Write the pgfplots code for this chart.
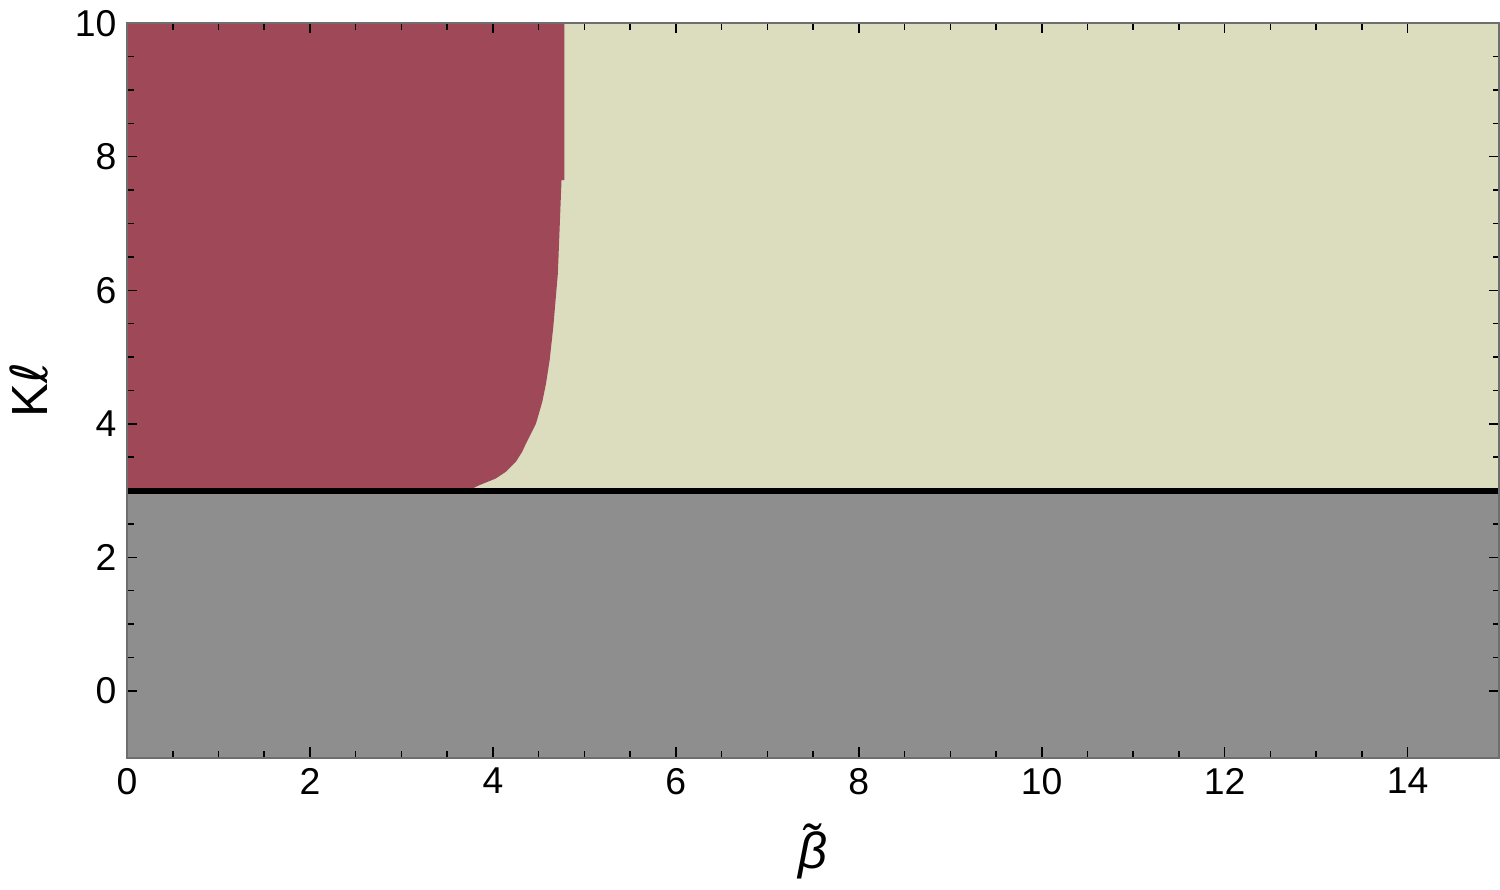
\documentclass[border=0pt]{standalone}
\usepackage{fontspec}
\setmainfont{Liberation Sans}
\newfontfamily\dejavu{DejaVu Sans}
\usepackage{pgfplots}
\pgfplotsset{compat=1.18}

\definecolor{redregion}{RGB}{158,72,88}
\definecolor{paleregion}{RGB}{220,220,190}
\definecolor{grayregion}{RGB}{142,142,142}
\definecolor{framegray}{RGB}{110,110,110}

\begin{document}
\begin{tikzpicture}
\begin{axis}[
    scale only axis,
    width=459pt, height=245.7pt,
    xmin=0, xmax=15, ymin=-1, ymax=10,
    xtick={0,2,...,14}, ytick={0,2,...,10},
    minor tick num=3,
    tick align=inside,
    major tick length=3.4pt, minor tick length=2.2pt,
    tick style={black, line width=0.5pt},
    axis line style={framegray, line width=0.6pt},
    ticklabel style={font=\fontsize{12.5}{14}\selectfont},
    /pgf/number format/assume math mode=true,
    xlabel={\fontsize{17}{19}\selectfont\itshape β̃},
    ylabel={\fontsize{17}{19}\selectfont K{\dejavu ℓ}},
    xlabel style={yshift=-3pt},
    ylabel style={yshift=2pt},
    axis on top,
    clip=true,
]
% pale region above K l = 3
\addplot[draw=none, fill=paleregion] coordinates {
    (0,3) (15,3) (15,10) (0,10)
} -- cycle;
% gray region below K l = 3
\addplot[draw=none, fill=grayregion] coordinates {
    (0,-1) (15,-1) (15,3) (0,3)
} -- cycle;
% red region, bounded on the right by the curve
\addplot[draw=none, fill=redregion] coordinates {
    (0,3.02) (3.76,3.02) (3.85,3.08) (4.03,3.18) (4.14,3.28)
    (4.25,3.43) (4.32,3.58) (4.36,3.70) (4.47,4.00) (4.54,4.33)
    (4.58,4.60) (4.62,4.95) (4.66,5.45) (4.71,6.25) (4.75,7.65)
    (4.78,7.65) (4.78,10) (0,10)
} -- cycle;
% boundary line
\addplot[black, line width=2pt] coordinates {(0,3) (15,3)};
\end{axis}
\end{tikzpicture}
\end{document}
